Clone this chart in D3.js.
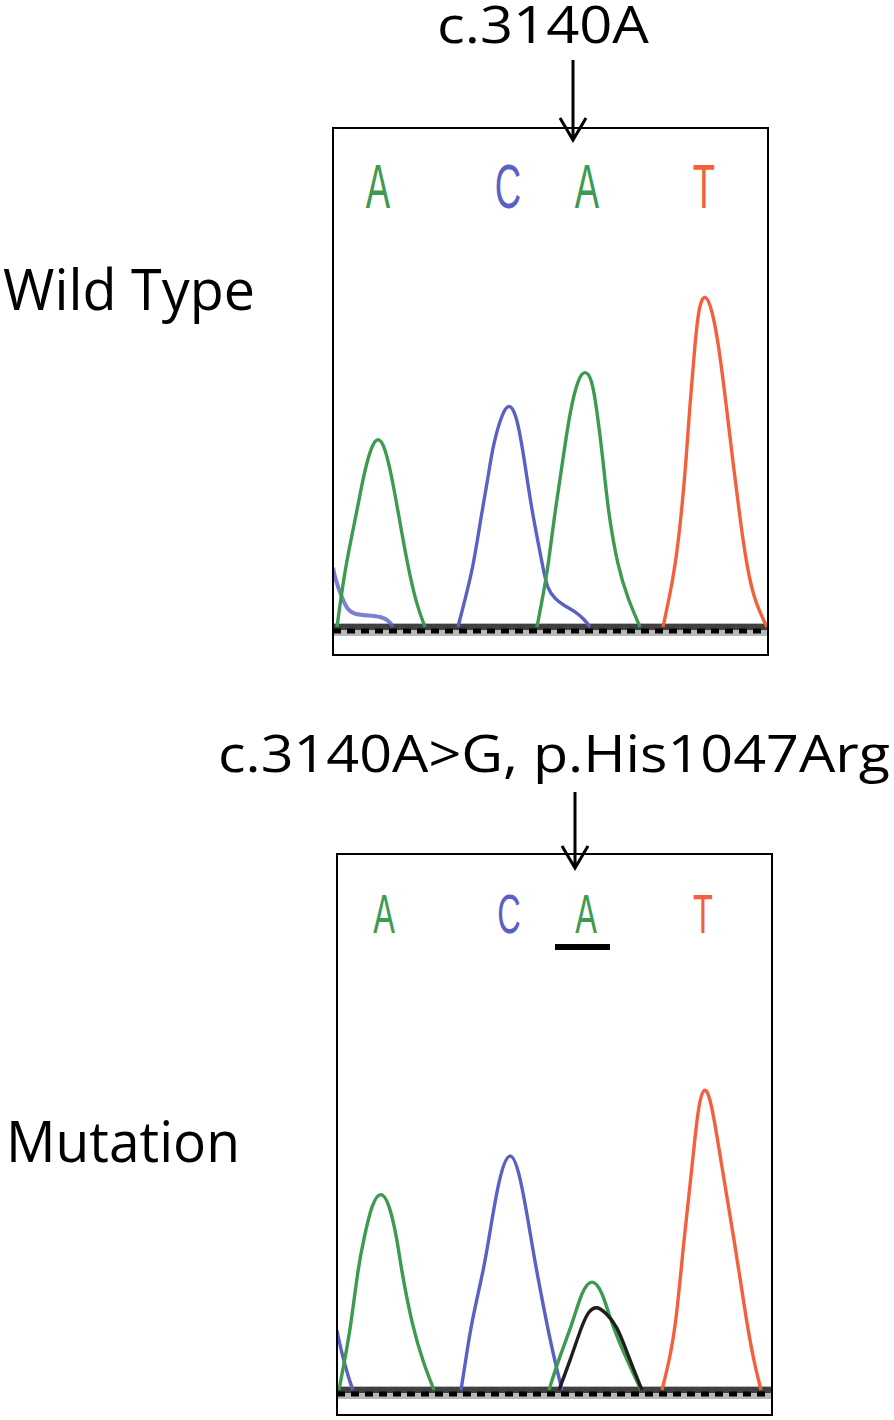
<!DOCTYPE html>
<html>
<head>
<meta charset="utf-8">
<script src="https://cdn.jsdelivr.net/npm/d3@7"></script>
<style>
    body { margin: 0; background: #fff; }
    svg { display: block; }
</style>
</head>
<body>
<div id="chart"></div>
<script>
// base calls shown above each trace
let bases = ['A', 'C', 'A', 'T'];
let wt_call_positions = [45, 175, 254, 371];
let mut_call_positions = [47, 172, 249, 366];

// trace points: [scan position, signal]
let wt_blue_tail = [[0, 170], [2, 140], [8, 90], [15, 46], [22, 36], [35, 33], [48, 30], [56, 18], [60, 0]];
let wt_green_1 = [[4, 0], [12, 169], [24, 331], [30, 426], [38, 515], [45, 545], [52, 515], [59, 426], [65, 331], [75, 169], [84, 60], [92, 0]];
let wt_blue = [[125, 0], [133, 90], [140, 169], [149, 331], [155, 426], [160, 520], [169, 610], [176, 640], [183, 610], [189, 520], [194, 426], [199, 331], [210, 169], [214, 111], [222, 80], [230, 63], [242, 45], [252, 20], [257, 0]];
let wt_green_2 = [[204, 0], [210, 90], [215, 169], [222, 331], [230, 480], [237, 617], [245, 710], [252, 735], [259, 710], [264, 617], [270, 480], [275, 331], [285, 169], [295, 80], [307, 0]];
let wt_red = [[330, 0], [336, 80], [342, 169], [348, 310], [353, 470], [357, 640], [362, 810], [366, 920], [372, 955], [379, 910], [386, 800], [393, 640], [400, 470], [407, 310], [414, 169], [422, 70], [434, 0]];

let mut_blue_edge = [[0, 170], [2, 140], [8, 70], [14, 14], [16, 0]];
let mut_green_1 = [[2, 0], [8, 90], [14, 186], [21, 349], [27, 434], [35, 535], [44, 570], [52, 535], [60, 434], [64, 349], [75, 186], [86, 80], [97, 0]];
let mut_blue = [[124, 0], [129, 90], [134, 186], [147, 349], [152, 434], [162, 610], [173, 695], [183, 620], [194, 434], [199, 349], [210, 186], [218, 80], [225, 0]];
let mut_green_3 = [[212, 0], [222, 91], [235, 186], [245, 285], [255, 320], [265, 285], [275, 186], [289, 91], [304, 0]];
let mut_black = [[222, 0], [234, 91], [245, 186], [252, 228], [260, 240], [268, 222], [280, 186], [292, 91], [305, 0]];
let mut_red = [[325, 0], [332, 80], [339, 186], [347, 434], [355, 634], [361, 810], [367, 872], [374, 835], [385, 634], [397, 434], [410, 186], [417, 80], [424, 0]];

let color_a = '#3d9b50';
let color_c = '#5a60c4';
let color_t = '#f3603c';
let color_g = '#1e1e1e';
let base_colors = { A: color_a, C: color_c, G: color_g, T: color_t };

let width = 894, height = 1420;
let svg = d3.select('#chart').append('svg').attr('width', width).attr('height', height);

let font_text = "'Open Sans', 'Liberation Sans', sans-serif";

function draw_panel(p) {
    let x = d3.scaleLinear().domain([0, 435]).range([p.left, p.right]);
    let y = d3.scaleLinear().domain([0, 1000]).range([p.baseline, p.baseline - 350]);

    let g = svg.append('g');

    g.append('clipPath').attr('id', p.id + '-clip')
        .append('rect')
        .attr('x', p.left).attr('y', p.top)
        .attr('width', p.right - p.left).attr('height', p.bottom - p.top);

    // baseline band (grey line with black dashes)
    let band = g.append('g').attr('clip-path', 'url(#' + p.id + '-clip)');
    band.append('rect')
        .attr('x', x(0)).attr('width', x(435) - x(0))
        .attr('y', y(0) - 4).attr('height', 13)
        .attr('fill', '#b8b8b8');
    band.append('line')
        .attr('x1', x(0)).attr('x2', x(435))
        .attr('y1', y(0)).attr('y2', y(0))
        .attr('stroke', '#404040').attr('stroke-width', 6);
    band.append('line')
        .attr('x1', x(0)).attr('x2', x(435))
        .attr('y1', y(0) + 4).attr('y2', y(0) + 4)
        .attr('stroke', '#000').attr('stroke-width', 5)
        .attr('stroke-dasharray', '8,6');

    let line = d3.line()
        .x(d => x(d[0]))
        .y(d => y(d[1]))
        .curve(d3.curveBasis);

    let traces = g.append('g').attr('clip-path', 'url(#' + p.id + '-clip)');
    p.traces.forEach(function (t) {
        traces.append('path')
            .datum(t.points)
            .attr('d', line)
            .attr('fill', 'none')
            .attr('stroke', t.color)
            .attr('stroke-width', t.width || 3.4)
            .attr('stroke-opacity', t.opacity || 1)
            .attr('stroke-linejoin', 'round');
    });

    // base call letters (narrow, like the sequencer font)
    g.selectAll('.base-' + p.id)
        .data(bases)
        .enter()
        .append('text')
        .attr('class', 'base-' + p.id)
        .attr('transform', (d, i) => 'translate(' + x(p.calls[i]) + ',' + p.letter_y + ') scale(0.58,1)')
        .attr('text-anchor', 'middle')
        .attr('font-family', "'Liberation Sans', sans-serif")
        .attr('font-size', p.letter_size)
        .attr('fill', d => base_colors[d])
        .text(d => d);

    if (p.underline !== undefined) {
        let cx = x(p.calls[p.underline]);
        g.append('line')
            .attr('x1', cx - 31).attr('x2', cx + 24)
            .attr('y1', p.letter_y + 14).attr('y2', p.letter_y + 14)
            .attr('stroke', '#000').attr('stroke-width', 6);
    }

    g.append('rect')
        .attr('x', p.left).attr('y', p.top)
        .attr('width', p.right - p.left).attr('height', p.bottom - p.top)
        .attr('fill', 'none')
        .attr('stroke', '#000')
        .attr('stroke-width', 2);

    // title and pointer arrow
    g.append('text')
        .attr('x', p.title_x).attr('y', p.title_y)
        .attr('font-family', font_text)
        .attr('font-size', 52)
        .attr('textLength', p.title_len)
        .attr('lengthAdjust', 'spacingAndGlyphs')
        .attr('fill', '#000')
        .text(p.title);

    g.append('path')
        .attr('d', 'M' + p.arrow_x + ',' + p.arrow_y0 + 'V' + p.arrow_y1
            + 'M' + (p.arrow_x - 13) + ',' + (p.arrow_y1 - 22) + 'L' + p.arrow_x + ',' + p.arrow_y1
            + 'L' + (p.arrow_x + 13) + ',' + (p.arrow_y1 - 22))
        .attr('fill', 'none')
        .attr('stroke', '#000')
        .attr('stroke-width', 3);

    g.append('text')
        .attr('x', p.label_x).attr('y', p.label_y)
        .attr('font-family', font_text)
        .attr('font-size', 56)
        .attr('textLength', p.label_len)
        .attr('lengthAdjust', 'spacingAndGlyphs')
        .attr('fill', '#000')
        .text(p.label);
}

draw_panel({
    id: 'wt',
    left: 333, right: 768, top: 128, bottom: 655, baseline: 627,
    calls: wt_call_positions, letter_y: 208, letter_size: 63,
    title: 'c.3140A', title_x: 437, title_y: 43, title_len: 212,
    arrow_x: 573, arrow_y0: 60, arrow_y1: 140,
    label: 'Wild Type', label_x: 3, label_y: 310, label_len: 252,
    traces: [
        { points: wt_blue_tail, color: color_c, width: 4, opacity: 0.8 },
        { points: wt_green_1, color: color_a },
        { points: wt_blue, color: color_c },
        { points: wt_green_2, color: color_a },
        { points: wt_red, color: color_t }
    ]
});

draw_panel({
    id: 'mut',
    left: 337, right: 772, top: 854, bottom: 1415, baseline: 1390,
    calls: mut_call_positions, letter_y: 933, letter_size: 56, underline: 2,
    title: 'c.3140A>G, p.His1047Arg', title_x: 218, title_y: 772, title_len: 672,
    arrow_x: 575, arrow_y0: 792, arrow_y1: 868,
    label: 'Mutation', label_x: 6, label_y: 1162, label_len: 234,
    traces: [
        { points: mut_blue_edge, color: color_c },
        { points: mut_green_1, color: color_a },
        { points: mut_blue, color: color_c },
        { points: mut_green_3, color: color_a },
        { points: mut_black, color: color_g },
        { points: mut_red, color: color_t }
    ]
});
</script>
</body>
</html>
